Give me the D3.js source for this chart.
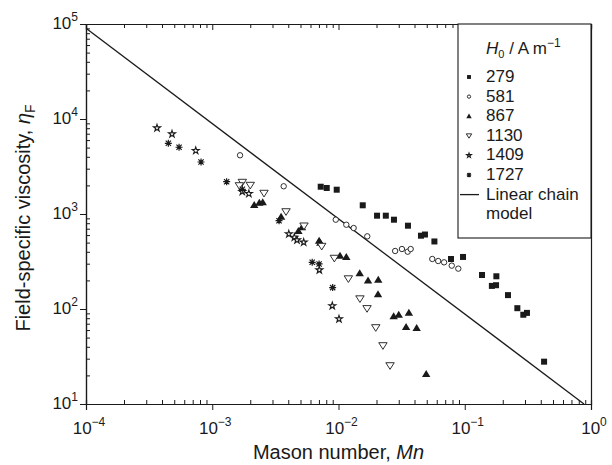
<!DOCTYPE html>
<html>
<head>
<meta charset="utf-8">
<script src="https://cdn.jsdelivr.net/npm/d3@7"></script>
<style>
    body { margin: 0; background: #fff; }
    text { font-family: "Liberation Sans", Arial, sans-serif; fill: #1a1a1a; }
</style>
</head>
<body>
<div id="chart"></div>
<script>
/* * * * * * * * * * * * * *
*   field-specific viscosity  *
* * * * * * * * * * * * * */

// [Mason number, field-specific viscosity]
const h279 = [[0.00723, 1937], [0.00807, 1879], [0.00968, 1802], [0.01556, 1235], [0.0202, 960],
    [0.0237, 960], [0.0275, 871], [0.0355, 753], [0.0450, 591], [0.0484, 608], [0.0575, 514],
    [0.0778, 336], [0.0969, 353], [0.137, 228], [0.164, 175], [0.178, 221], [0.177, 178],
    [0.220, 140], [0.261, 102], [0.291, 87], [0.311, 91], [0.425, 27.9]];

const h581 = [[0.00166, 4150], [0.00368, 1958], [0.00951, 871], [0.01153, 771], [0.01318, 712],
    [0.0169, 582], [0.0281, 408], [0.0318, 428], [0.0353, 401], [0.0373, 428], [0.0553, 336],
    [0.0616, 320], [0.0686, 310], [0.0789, 286], [0.0889, 266]];

const h867 = [[0.00215, 1244], [0.00236, 1315], [0.00251, 1328], [0.00351, 937], [0.00481, 662],
    [0.00514, 724], [0.00702, 524], [0.00718, 499], [0.01028, 364], [0.01153, 353], [0.01472, 238],
    [0.01714, 199], [0.02065, 203], [0.02056, 143], [0.02735, 83.8], [0.0300, 87.1], [0.0361, 91.4],
    [0.0343, 64.7], [0.0416, 63.1], [0.0495, 20.7]];

const h1130 = [[0.00173, 2157], [0.00164, 1986], [0.00200, 2005], [0.00257, 1652], [0.00384, 1057],
    [0.00533, 748], [0.00736, 457], [0.00927, 342], [0.01197, 208], [0.01479, 128], [0.01683, 101],
    [0.01973, 63.6], [0.02249, 41.1], [0.0256, 25.3]];

const h1409 = [[0.000365, 8040], [0.000480, 6950], [0.000740, 4640], [0.00173, 1718], [0.00195, 1636],
    [0.00404, 616], [0.00447, 568], [0.00469, 532], [0.00530, 504], [0.00705, 257], [0.00893, 108],
    [0.01009, 78.5]];

const h1727 = [[0.000449, 5550], [0.000546, 5040], [0.000815, 3527], [0.00130, 2188], [0.00173, 1820],
    [0.00338, 850], [0.00619, 310], [0.00702, 298], [0.00899, 168]];

const fieldLabels = ["279", "581", "867", "1130", "1409", "1727"];
const fieldData = [h279, h581, h867, h1130, h1409, h1727];
const fieldSymbols = ["square", "circle", "triangleUp", "triangleDown", "star", "asterisk"];

// linear chain model end points
const chainModel = [[1e-4, 9.0e4], [0.88, 10]];

const xMajor = [1e-4, 1e-3, 1e-2, 1e-1, 1];
const xExp = ["\u22124", "\u22123", "\u22122", "\u22121", "0"];
const yMajor = [10, 100, 1e3, 1e4, 1e5];
const yExp = ["1", "2", "3", "4", "5"];


const width = 612, height = 465;
const margin = {left: 86, right: 21, top: 24, bottom: 61};

const svg = d3.select("#chart").append("svg")
    .attr("width", width)
    .attr("height", height);

const x = d3.scaleLog()
    .domain([1e-4, 1])
    .range([margin.left, width - margin.right]);

const y = d3.scaleLog()
    .domain([10, 1e5])
    .range([height - margin.bottom, margin.top]);

const x0 = x.range()[0], x1 = x.range()[1];
const y0 = y.range()[0], y1 = y.range()[1];

// minor tick values for each decade
function minorTicks(lo, hi) {
    let out = [];
    for (let p = lo; p < hi; p++) {
        for (let k = 2; k <= 9; k++) out.push(k * Math.pow(10, p));
    }
    return out;
}
const xMinor = minorTicks(-4, 0);
const yMinor = minorTicks(1, 5);

const ink = "#1a1a1a";
const fs = "17px";
const titleFs = "20px";

// axes: major ticks outward, minor ticks inward
svg.append("g")
    .attr("transform", `translate(0,${y0})`)
    .call(d3.axisBottom(x).tickValues(xMajor).tickSize(6).tickFormat(""));
svg.append("g")
    .attr("transform", `translate(0,${y0})`)
    .call(d3.axisBottom(x).tickValues(xMinor).tickSize(-4).tickFormat(""));
svg.append("g")
    .attr("transform", `translate(0,${y1})`)
    .call(d3.axisTop(x).tickValues(xMajor).tickSize(-6).tickFormat(""));
svg.append("g")
    .attr("transform", `translate(0,${y1})`)
    .call(d3.axisTop(x).tickValues(xMinor).tickSize(-4).tickFormat(""));
svg.append("g")
    .attr("transform", `translate(${x0},0)`)
    .call(d3.axisLeft(y).tickValues(yMajor).tickSize(6).tickFormat(""));
svg.append("g")
    .attr("transform", `translate(${x0},0)`)
    .call(d3.axisLeft(y).tickValues(yMinor).tickSize(-4).tickFormat(""));
svg.append("g")
    .attr("transform", `translate(${x1},0)`)
    .call(d3.axisRight(y).tickValues(yMajor).tickSize(0).tickFormat(""));

svg.selectAll(".domain").attr("stroke", ink).attr("stroke-width", 1.2);
svg.selectAll(".tick line").attr("stroke", ink).attr("stroke-width", 1);

// tick labels with superscripts
const xl = svg.append("g").selectAll("text")
    .data(xMajor)
    .enter().append("text")
    .attr("x", d => x(d) + 3)
    .attr("y", y0 + 30)
    .attr("text-anchor", "middle")
    .style("font-size", fs);
xl.append("tspan").text("10");
xl.append("tspan").attr("dy", -8).style("font-size", "12px").text((d, i) => xExp[i]);

const yl = svg.append("g").selectAll("text")
    .data(yMajor)
    .enter().append("text")
    .attr("x", x0 - 8)
    .attr("y", d => y(d) + 5)
    .attr("text-anchor", "end")
    .style("font-size", fs);
yl.append("tspan").text("10");
yl.append("tspan").attr("dy", -8).style("font-size", "12px").text((d, i) => yExp[i]);

// axis titles
const xt = svg.append("text")
    .attr("x", (x0 + x1) / 2)
    .attr("y", 459)
    .attr("text-anchor", "middle")
    .style("font-size", titleFs);
xt.append("tspan").text("Mason number, ");
xt.append("tspan").style("font-style", "italic").text("Mn");

const yt = svg.append("text")
    .attr("transform", `translate(30,${(y0 + y1) / 2 + 4}) rotate(-90)`)
    .attr("text-anchor", "middle")
    .style("font-size", titleFs);
yt.append("tspan").text("Field-specific viscosity, ");
yt.append("tspan").style("font-style", "italic").text("\u03b7");
yt.append("tspan").attr("dy", 5).style("font-size", "14px").text("F");

// linear chain model
svg.append("path")
    .datum(chainModel)
    .attr("d", d3.line().x(d => x(d[0])).y(d => y(d[1])))
    .attr("fill", "none")
    .attr("stroke", ink)
    .attr("stroke-width", 1.3);

// marker shapes
function drawMarker(g, type, s) {
    if (type === "square") {
        g.append("rect").attr("x", -s / 2).attr("y", -s / 2).attr("width", s).attr("height", s)
            .attr("fill", ink);
    } else if (type === "circle") {
        g.append("circle").attr("r", s / 2 - 0.3).attr("fill", "#fff").attr("stroke", ink).attr("stroke-width", 0.9);
    } else if (type === "triangleUp") {
        let h = s * 0.95;
        g.append("path").attr("d", `M0,${-h * 0.6}L${s * 0.6},${h * 0.45}L${-s * 0.6},${h * 0.45}Z`)
            .attr("fill", ink);
    } else if (type === "triangleDown") {
        let h = s * 0.95;
        g.append("path").attr("d", `M0,${h * 0.55}L${s * 0.6},${-h * 0.45}L${-s * 0.6},${-h * 0.45}Z`)
            .attr("fill", "#fff").attr("stroke", ink).attr("stroke-width", 0.9);
    } else if (type === "star") {
        g.append("path").attr("d", d3.symbol().type(d3.symbolStar).size(s * s * 0.36)())
            .attr("fill", "#fff").attr("stroke", ink).attr("stroke-width", 1.1);
    } else if (type === "asterisk") {
        let r = s / 2;
        let d = `M${-r},0L${r},0M0,${-r}L0,${r}M${-r * 0.75},${-r * 0.75}L${r * 0.75},${r * 0.75}M${-r * 0.75},${r * 0.75}L${r * 0.75},${-r * 0.75}`;
        g.append("path").attr("d", d).attr("stroke", ink).attr("stroke-width", 1.2);
        g.append("circle").attr("r", r * 0.45).attr("fill", ink);
    }
}

const markerSize = {square: 6, circle: 6, triangleUp: 7, triangleDown: 7, star: 6.5, asterisk: 7};

fieldData.forEach((series, i) => {
    let type = fieldSymbols[i];
    svg.append("g").selectAll("g")
        .data(series)
        .enter().append("g")
        .attr("transform", d => `translate(${x(d[0])},${y(d[1])})`)
        .each(function () { drawMarker(d3.select(this), type, markerSize[type]); });
});

// legend
const legend = svg.append("g");
legend.append("rect")
    .attr("x", 458).attr("y", y1)
    .attr("width", x1 - 458).attr("height", 214)
    .attr("fill", "#fff")
    .attr("stroke", ink)
    .attr("stroke-width", 1.1);

const lt = legend.append("text")
    .attr("x", 486)
    .attr("y", 54)
    .style("font-size", fs);
lt.append("tspan").style("font-style", "italic").text("H");
lt.append("tspan").attr("dy", 4).style("font-size", "11px").text("0");
lt.append("tspan").attr("dy", -4).text(" / A m");
lt.append("tspan").attr("dy", -7).style("font-size", "12px").text("\u22121");

const rowY = d3.scaleLinear().domain([0, 1]).range([82, 101.6]);

fieldLabels.forEach((lab, i) => {
    let cy = rowY(i);
    let g = legend.append("g").attr("transform", `translate(469,${cy - 5})`);
    drawMarker(g, fieldSymbols[i], markerSize[fieldSymbols[i]] * 0.65);
    legend.append("text")
        .attr("x", 486)
        .attr("y", cy)
        .style("font-size", fs)
        .text(lab);
});

legend.append("line")
    .attr("x1", 460).attr("x2", 479)
    .attr("y1", rowY(6) - 5).attr("y2", rowY(6) - 5)
    .attr("stroke", ink)
    .attr("stroke-width", 1.3);
legend.append("text")
    .attr("x", 486).attr("y", rowY(6))
    .style("font-size", fs)
    .text("Linear chain");
legend.append("text")
    .attr("x", 486).attr("y", rowY(7))
    .style("font-size", fs)
    .text("model");
</script>
</body>
</html>
